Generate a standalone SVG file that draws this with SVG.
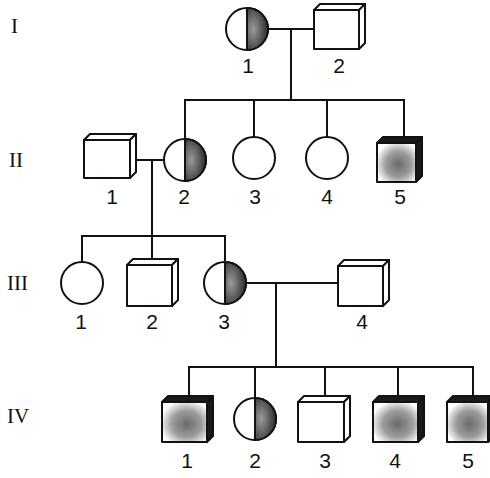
<svg xmlns="http://www.w3.org/2000/svg" width="490" height="478" viewBox="0 0 490 478">
<style>
.ln{stroke:#111;stroke-width:2;fill:none;stroke-linecap:square}
.sh{stroke:#111;stroke-width:2;fill:#fff;stroke-linejoin:round}
.dk{stroke:#111;stroke-width:2;fill:#1a1a1a;stroke-linejoin:round}
.aff{stroke:#111;stroke-width:2;fill:url(#stip);stroke-linejoin:round}
.half{stroke:#111;stroke-width:2;fill:url(#halfg)}
.num{font-family:"Liberation Sans",Arial,sans-serif;font-size:21px;fill:#111;text-anchor:middle}
.gen{font-family:"Liberation Serif","Times New Roman",serif;font-size:21px;fill:#111}
</style>
<defs>
<radialGradient id="halfg" cx="0.3" cy="0.5" r="0.9">
<stop offset="0" stop-color="#9a9a9a"/>
<stop offset="0.55" stop-color="#4a4a4a"/>
<stop offset="1" stop-color="#111"/>
</radialGradient>
<radialGradient id="stip" cx="0.55" cy="0.55" r="0.6">
<stop offset="0" stop-color="#6a6a6a"/>
<stop offset="0.55" stop-color="#9c9c9c"/>
<stop offset="1" stop-color="#fff"/>
</radialGradient>
</defs>
<rect width="490" height="478" fill="#fff"/>
<g id="generation-labels">
<text class="gen" x="11" y="33">I</text>
<text class="gen" x="9" y="167">II</text>
<text class="gen" x="7" y="290">III</text>
<text class="gen" x="7" y="423">IV</text>
</g>
<g id="connectors">
<line class="ln" x1="268" y1="29" x2="314" y2="29"/>
<line class="ln" x1="291" y1="29" x2="291" y2="100"/>
<line class="ln" x1="185" y1="100" x2="404" y2="100"/>
<line class="ln" x1="185" y1="100" x2="185" y2="139"/>
<line class="ln" x1="254" y1="100" x2="254" y2="137"/>
<line class="ln" x1="327" y1="100" x2="327" y2="137"/>
<line class="ln" x1="404" y1="100" x2="404" y2="137"/>
<line class="ln" x1="136" y1="160" x2="164" y2="160"/>
<line class="ln" x1="152" y1="160" x2="152" y2="259"/>
<line class="ln" x1="82" y1="236" x2="225" y2="236"/>
<line class="ln" x1="82" y1="236" x2="82" y2="262"/>
<line class="ln" x1="225" y1="236" x2="225" y2="262"/>
<line class="ln" x1="246" y1="283" x2="338" y2="283"/>
<line class="ln" x1="276" y1="283" x2="276" y2="367"/>
<line class="ln" x1="189" y1="367" x2="473" y2="367"/>
<line class="ln" x1="189" y1="367" x2="189" y2="396"/>
<line class="ln" x1="255" y1="367" x2="255" y2="398"/>
<line class="ln" x1="325" y1="367" x2="325" y2="396"/>
<line class="ln" x1="398" y1="367" x2="398" y2="396"/>
<line class="ln" x1="473" y1="367" x2="473" y2="396"/>
</g>
<g id="I-1">
<circle class="sh" cx="247" cy="29" r="21"/>
<path class="half" d="M247,8 A21,21 0 0 1 247,50 Z"/>
<text class="num" x="248" y="73">1</text>
</g>
<g id="I-2">
<polygon class="sh" points="314,10 320,4 365,4 359,10"/>
<polygon class="sh" points="359,10 365,4 365,43 359,49"/>
<rect class="sh" x="314" y="10" width="45" height="39"/>
<text class="num" x="339" y="73">2</text>
</g>
<g id="II-1">
<polygon class="sh" points="84,140 90,134 136,134 130,140"/>
<polygon class="sh" points="130,140 136,134 136,172 130,178"/>
<rect class="sh" x="84" y="140" width="46" height="38"/>
<text class="num" x="112" y="204">1</text>
</g>
<g id="II-2">
<circle class="sh" cx="185" cy="160" r="21"/>
<path class="half" d="M185,139 A21,21 0 0 1 185,181 Z"/>
<text class="num" x="184" y="204">2</text>
</g>
<g id="II-3">
<circle class="sh" cx="254" cy="158" r="21"/>
<text class="num" x="255" y="204">3</text>
</g>
<g id="II-4">
<circle class="sh" cx="327" cy="158" r="21"/>
<text class="num" x="327" y="204">4</text>
</g>
<g id="II-5">
<polygon class="dk" points="377,143 383,137 422,137 416,143"/>
<polygon class="dk" points="416,143 422,137 422,176 416,182"/>
<rect class="aff" x="377" y="143" width="39" height="39"/>
<text class="num" x="400" y="204">5</text>
</g>
<g id="III-1">
<circle class="sh" cx="82" cy="283" r="21"/>
<text class="num" x="81" y="329">1</text>
</g>
<g id="III-2">
<polygon class="sh" points="127,265 133,259 178,259 172,265"/>
<polygon class="sh" points="172,265 178,259 178,300 172,306"/>
<rect class="sh" x="127" y="265" width="45" height="41"/>
<text class="num" x="152" y="329">2</text>
</g>
<g id="III-3">
<circle class="sh" cx="225" cy="283" r="21"/>
<path class="half" d="M225,262 A21,21 0 0 1 225,304 Z"/>
<text class="num" x="224" y="329">3</text>
</g>
<g id="III-4">
<polygon class="sh" points="338,266 344,260 389,260 383,266"/>
<polygon class="sh" points="383,266 389,260 389,300 383,306"/>
<rect class="sh" x="338" y="266" width="45" height="40"/>
<text class="num" x="362" y="329">4</text>
</g>
<g id="IV-1">
<polygon class="dk" points="162,402 168,396 213,396 207,402"/>
<polygon class="dk" points="207,402 213,396 213,436 207,442"/>
<rect class="aff" x="162" y="402" width="45" height="40"/>
<text class="num" x="187" y="468">1</text>
</g>
<g id="IV-2">
<circle class="sh" cx="255" cy="419" r="21"/>
<path class="half" d="M255,398 A21,21 0 0 1 255,440 Z"/>
<text class="num" x="255" y="468">2</text>
</g>
<g id="IV-3">
<polygon class="sh" points="298,402 304,396 350,396 344,402"/>
<polygon class="sh" points="344,402 350,396 350,436 344,442"/>
<rect class="sh" x="298" y="402" width="46" height="40"/>
<text class="num" x="325" y="468">3</text>
</g>
<g id="IV-4">
<polygon class="dk" points="373,402 379,396 424,396 418,402"/>
<polygon class="dk" points="418,402 424,396 424,436 418,442"/>
<rect class="aff" x="373" y="402" width="45" height="40"/>
<text class="num" x="395" y="468">4</text>
</g>
<g id="IV-5">
<polygon class="dk" points="447,402 453,396 494,396 488,402"/>
<polygon class="dk" points="488,402 494,396 494,436 488,442"/>
<rect class="aff" x="447" y="402" width="41" height="40"/>
<text class="num" x="468" y="468">5</text>
</g>
</svg>
